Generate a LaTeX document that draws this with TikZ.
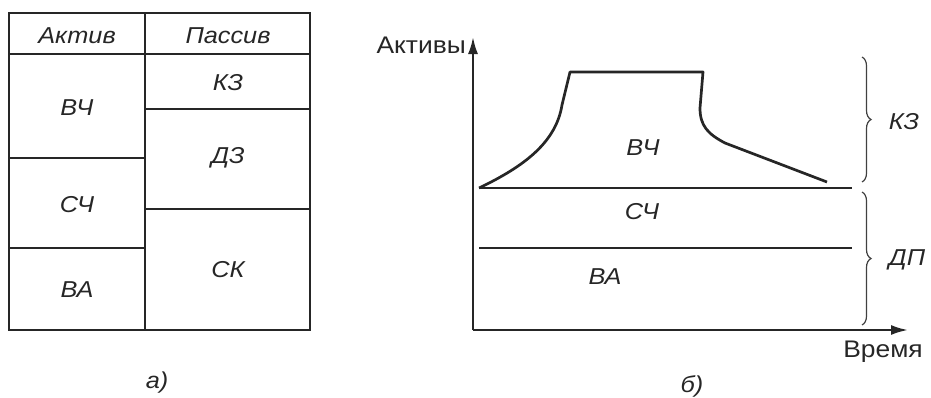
\documentclass[tikz,border=0pt]{standalone}
\usepackage{fontspec}
\setmainfont{Liberation Sans}
\newfontfamily\labfont[FakeStretch=1.1]{Liberation Sans}
\usetikzlibrary{arrows.meta,decorations.pathreplacing}
\begin{document}
\begin{tikzpicture}[x=1pt,y=-1pt,
  tabline/.style={line width=2.2pt,black!85},
  curveline/.style={line width=2.7pt,black!85,line join=round},
  axisline/.style={line width=2.3pt,black!85,-{Latex[length=17pt,width=10pt]}},
  bracestyle/.style={line width=1.2pt,black!75,decorate,decoration={brace,amplitude=9pt}},
  itl/.style={font=\labfont\itshape\fontsize{23}{27}\selectfont,text=black!85,inner sep=0pt},
  upl/.style={font=\labfont\fontsize{24}{28}\selectfont,text=black!85,inner sep=0pt}]
\useasboundingbox (0,0) rectangle (931,397);
% ---------- panel a ----------
\draw[tabline] (9,13) rectangle (310,330);
\draw[tabline] (145,13) -- (145,330);
\draw[tabline] (9,54) -- (310,54);
\draw[tabline] (9,158) -- (145,158);
\draw[tabline] (9,248) -- (145,248);
\draw[tabline] (145,109) -- (310,109);
\draw[tabline] (145,209) -- (310,209);
\node[itl] (hA) at (77,36) {Актив};
\node[itl] (hP) at (228,36) {Пассив};
\node[itl] (aVC) at (77,108) {ВЧ};
\node[itl] (aSC) at (77,205) {СЧ};
\node[itl] (aVA) at (77,290) {ВА};
\node[itl] (pKZ) at (228,83) {КЗ};
\node[itl] (pDZ) at (228,158) {ДЗ};
\node[itl] (pSK) at (228,270) {СК};
\node[itl] (capA) at (157,383) {а)};
% ---------- panel b ----------
\coordinate (O) at (473,330);
\coordinate (Ytop) at (473,37);
\coordinate (Xend) at (908,330);
\draw[axisline] (O) -- (Ytop);
\draw[axisline] (O) -- (Xend);
\node[upl,anchor=east] (ylab) at (466,45) {Активы};
\node[upl] (xlab) at (883,352) {Время};
\coordinate (b1) at (479,188);
\coordinate (b2) at (852,188);
\coordinate (c1) at (479,248);
\coordinate (c2) at (852,248);
\draw[curveline] (b1) -- (b2);
\draw[curveline] (c1) -- (c2);
\draw[curveline] (b1) .. controls (525,166) and (556,142) .. (562,105)
  -- (570,72) -- (703,72) -- (700,108)
  .. controls (700,126) and (708,134) .. (725,143) -- (827,182);
\node[itl] (bVC) at (643,148) {ВЧ};
\node[itl] (bSC) at (642,212) {СЧ};
\node[itl] (bVA) at (605,277) {ВА};
\coordinate (k1) at (862,57);
\coordinate (k2) at (862,182);
\coordinate (d1) at (862,192);
\coordinate (d2) at (862,325);
\draw[bracestyle] (k1) -- (k2);
\draw[bracestyle] (d1) -- (d2);
\node[itl] (bKZ) at (904,122) {КЗ};
\node[itl] (bDP) at (907,260) {ДП};
\node[itl] (capB) at (692,386) {б)};
\end{tikzpicture}
\end{document}
